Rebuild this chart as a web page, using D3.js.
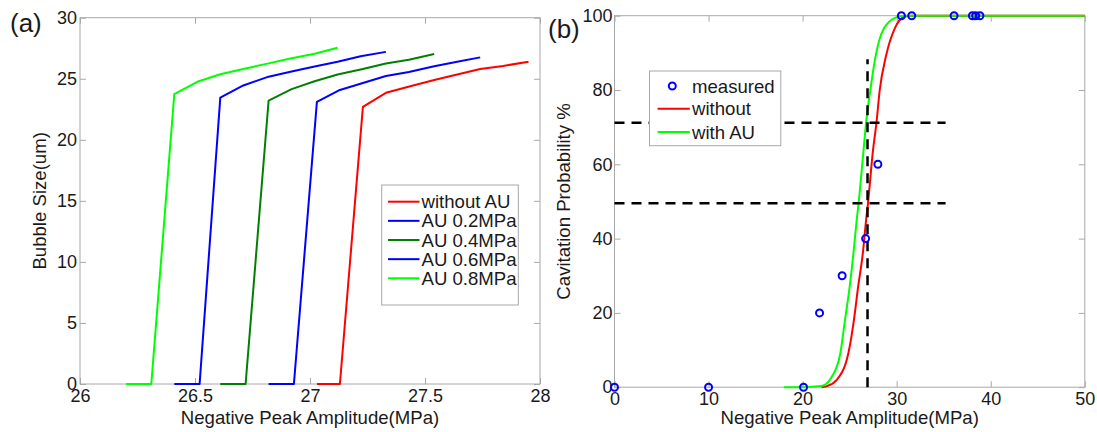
<!DOCTYPE html>
<html>
<head>
<meta charset="utf-8">
<script src="https://cdn.jsdelivr.net/npm/d3@7"></script>
<style>
  body { margin: 0; background: #fff; }
  svg { display: block; }
  text { font-family: "Liberation Sans", Arial, sans-serif; fill: #1a1a1a; }
</style>
</head>
<body>
<svg id="chart" width="1097" height="432"></svg>
<script>
// ---------- Panel (a) data ----------
const xTicksA = [26, 26.5, 27, 27.5, 28];
const yTicksA = [0, 5, 10, 15, 20, 25, 30];
const seriesNamesA = ["without AU", "AU 0.2MPa", "AU 0.4MPa", "AU 0.6MPa", "AU 0.8MPa"];
const withoutAU_x = [27.03, 27.13, 27.23, 27.33, 27.44, 27.54, 27.64, 27.74, 27.84, 27.95];
const withoutAU_y = [0, 0, 22.7, 23.85, 24.4, 24.9, 25.35, 25.8, 26.05, 26.4];
const au02_x = [26.41, 26.52, 26.61, 26.71, 26.82, 26.92, 27.02, 27.12, 27.22, 27.33];
const au02_y = [0, 0, 23.45, 24.45, 25.17, 25.6, 26.0, 26.4, 26.85, 27.2];
const au04_x = [26.61, 26.72, 26.82, 26.92, 27.02, 27.12, 27.23, 27.33, 27.43, 27.54];
const au04_y = [0, 0, 23.2, 24.15, 24.8, 25.35, 25.8, 26.25, 26.55, 27.03];
const au06_x = [26.82, 26.93, 27.03, 27.13, 27.23, 27.33, 27.43, 27.54, 27.64, 27.74];
const au06_y = [0, 0, 23.1, 24.08, 24.65, 25.22, 25.55, 26.03, 26.4, 26.75];
const au08_x = [26.2, 26.31, 26.41, 26.51, 26.61, 26.71, 26.81, 26.91, 27.02, 27.12];
const au08_y = [0, 0, 23.75, 24.75, 25.37, 25.8, 26.22, 26.63, 27.05, 27.54];

// ---------- Panel (b) data ----------
const xTicksB = [0, 10, 20, 30, 40, 50];
const yTicksB = [0, 20, 40, 60, 80, 100];
const seriesNamesB = ["measured", "without", "with AU"];
const measured_x = [0, 10, 20.1, 21.8, 24.2, 26.7, 28.0, 30.5, 31.6, 36.1, 38.05, 38.4, 38.85];
const measured_y = [0, 0, 0, 20, 30, 40, 60, 100, 100, 100, 100, 100, 100];
const without_x = [22.0, 22.6, 23.6, 24.85, 25.45, 25.9, 26.4, 26.75, 26.95, 27.45, 27.85, 28.2, 28.85, 29.8, 30.8, 31.5, 50];
const without_y = [0, 0.3, 1.9, 9, 18, 27, 36, 45, 49.5, 63, 71.2, 80, 89, 96.6, 99.7, 100, 100];
const withAU_x = [18.0, 20.0, 22.0, 23.1, 24.0, 24.5, 25.0, 25.4, 25.75, 25.95, 26.45, 26.75, 27.2, 27.75, 28.65, 30.0, 30.8, 50];
const withAU_y = [0, 0, 0.3, 2.8, 9, 18, 27, 36, 45, 49.5, 63, 71.2, 80, 89, 96.6, 99.6, 100, 100];
const hDash_y = [71.2, 49.5];
const hDash_xEnd = 35.2;
const vDash_x = 26.9;
const vDash_yTop = 88.3;

// ---------- styles ----------
const colorsA = ["#ff0000", "#0000ff", "#008000", "#0000ff", "#00ff00"];
const axisGray = "#a8a8a8";
const FS = 18;
const FS_T = 18.6;

const svg = d3.select("#chart");

function drawAxes(g, x, y, xTicks, yTicks, xPad, yPad) {
  const [x0, x1] = x.range();
  const [y0, y1] = y.range();
  const bottom = g.append("g").attr("transform", `translate(0,${y0})`)
    .call(d3.axisBottom(x).tickValues(xTicks).tickFormat(d3.format("~g")).tickSizeInner(-6).tickSizeOuter(0).tickPadding(xPad));
  const top = g.append("g").attr("transform", `translate(0,${y1})`)
    .call(d3.axisTop(x).tickValues(xTicks).tickFormat("").tickSizeInner(-6).tickSizeOuter(0));
  const left = g.append("g").attr("transform", `translate(${x0},0)`)
    .call(d3.axisLeft(y).tickValues(yTicks).tickFormat(d3.format("~g")).tickSizeInner(-6).tickSizeOuter(0).tickPadding(yPad));
  const right = g.append("g").attr("transform", `translate(${x1},0)`)
    .call(d3.axisRight(y).tickValues(yTicks).tickFormat("").tickSizeInner(-6).tickSizeOuter(0));
  [bottom, top, left, right].forEach(a => {
    a.select(".domain").remove();
    a.selectAll(".tick line").attr("stroke", axisGray);
    a.selectAll(".tick text").attr("font-size", FS).attr("fill", "#1a1a1a")
      .attr("font-family", '"Liberation Sans", Arial, sans-serif');
  });
  g.append("rect").attr("x", x0).attr("y", y1).attr("width", x1 - x0).attr("height", y0 - y1)
    .attr("fill", "none").attr("stroke", axisGray).attr("stroke-width", 1);
}

// ================= Panel (a) =================
const gA = svg.append("g");
const xA = d3.scaleLinear().domain([26, 28]).range([80, 540]);
const yA = d3.scaleLinear().domain([0, 30]).range([384, 17.7]);
drawAxes(gA, xA, yA, xTicksA, yTicksA, 5, 3);

const seriesA = [
  [withoutAU_x, withoutAU_y], [au02_x, au02_y], [au04_x, au04_y], [au06_x, au06_y], [au08_x, au08_y]
];
const lineA = d3.line().x(d => xA(d[0])).y(d => yA(d[1]));
seriesA.forEach((s, i) => {
  const pts = s[0].map((v, k) => [v, s[1][k]]);
  gA.append("path").attr("d", lineA(pts)).attr("fill", "none")
    .attr("stroke", colorsA[i]).attr("stroke-width", 2).attr("stroke-linejoin", "round");
});

gA.append("text").attr("x", 310).attr("y", 424).attr("text-anchor", "middle").attr("font-size", FS_T)
  .text("Negative Peak Amplitude(MPa)");
gA.append("text").attr("transform", `translate(46,${(384 + 17.7) / 2}) rotate(-90)`)
  .attr("text-anchor", "middle").attr("font-size", FS_T).text("Bubble Size(um)");
gA.append("text").attr("x", 10).attr("y", 32).attr("font-size", 26).text("(a)");

// legend (a)
const legA = gA.append("g");
legA.append("rect").attr("x", 381.7).attr("y", 185).attr("width", 136.6).attr("height", 120)
  .attr("fill", "#fff").attr("stroke", axisGray);
seriesNamesA.forEach((name, i) => {
  const yy = 201.7 + i * 19.15;
  legA.append("line").attr("x1", 388).attr("x2", 419.5).attr("y1", yy).attr("y2", yy)
    .attr("stroke", colorsA[i]).attr("stroke-width", 2);
  legA.append("text").attr("x", 421.5).attr("y", yy).attr("dy", "0.35em").attr("font-size", FS_T).text(name);
});

// ================= Panel (b) =================
const gB = svg.append("g");
const xB = d3.scaleLinear().domain([0, 50]).range([614.5, 1084.8]);
const yB = d3.scaleLinear().domain([0, 100]).range([387.2, 15.7]);
drawAxes(gB, xB, yB, xTicksB, yTicksB, 5, 2);

const lineB = d3.line().x(d => xB(d[0])).y(d => yB(d[1])).curve(d3.curveMonotoneX);
const withoutPts = without_x.map((v, k) => [v, without_y[k]]);
const withAUPts = withAU_x.map((v, k) => [v, withAU_y[k]]);
gB.append("path").attr("d", lineB(withoutPts)).attr("fill", "none").attr("stroke", "#ff0000").attr("stroke-width", 2);
gB.append("path").attr("d", lineB(withAUPts)).attr("fill", "none").attr("stroke", "#00ff00").attr("stroke-width", 2);

// dashed guide lines
hDash_y.forEach(v => {
  gB.append("line").attr("x1", xB(0)).attr("x2", xB(hDash_xEnd)).attr("y1", yB(v)).attr("y2", yB(v))
    .attr("stroke", "#000").attr("stroke-width", 2.5).attr("stroke-dasharray", "10,7");
});
gB.append("line").attr("x1", xB(vDash_x)).attr("x2", xB(vDash_x)).attr("y1", yB(0)).attr("y2", yB(vDash_yTop))
  .attr("stroke", "#000").attr("stroke-width", 2.5).attr("stroke-dasharray", "10,7");

// measured points
gB.selectAll("circle.m").data(measured_x.map((v, k) => [v, measured_y[k]])).enter()
  .append("circle").attr("class", "m")
  .attr("cx", d => xB(d[0])).attr("cy", d => yB(d[1])).attr("r", 3.5)
  .attr("fill", "none").attr("stroke", "#0000ff").attr("stroke-width", 2);

gB.append("text").attr("x", 849.7).attr("y", 424).attr("text-anchor", "middle").attr("font-size", FS_T)
  .text("Negative Peak Amplitude(MPa)");
gB.append("text").attr("transform", `translate(569.5,${(387.2 + 15.7) / 2}) rotate(-90)`)
  .attr("text-anchor", "middle").attr("font-size", FS_T).text("Cavitation Probability %");
gB.append("text").attr("x", 548).attr("y", 38).attr("font-size", 26).text("(b)");

// legend (b)
const legB = gB.append("g");
legB.append("rect").attr("x", 649.5).attr("y", 71).attr("width", 131.3).attr("height", 74.7)
  .attr("fill", "#fff").attr("stroke", axisGray);
const legRowsB = [86, 108.7, 132];
legB.append("circle").attr("cx", 672.3).attr("cy", legRowsB[0]).attr("r", 3.5)
  .attr("fill", "none").attr("stroke", "#0000ff").attr("stroke-width", 2);
legB.append("line").attr("x1", 657.6).attr("x2", 689.8).attr("y1", legRowsB[1]).attr("y2", legRowsB[1])
  .attr("stroke", "#ff0000").attr("stroke-width", 2);
legB.append("line").attr("x1", 657.6).attr("x2", 689.8).attr("y1", legRowsB[2]).attr("y2", legRowsB[2])
  .attr("stroke", "#00ff00").attr("stroke-width", 2);
seriesNamesB.forEach((name, i) => {
  legB.append("text").attr("x", 692).attr("y", legRowsB[i]).attr("dy", "0.35em").attr("font-size", FS_T).text(name);
});
</script>
</body>
</html>
